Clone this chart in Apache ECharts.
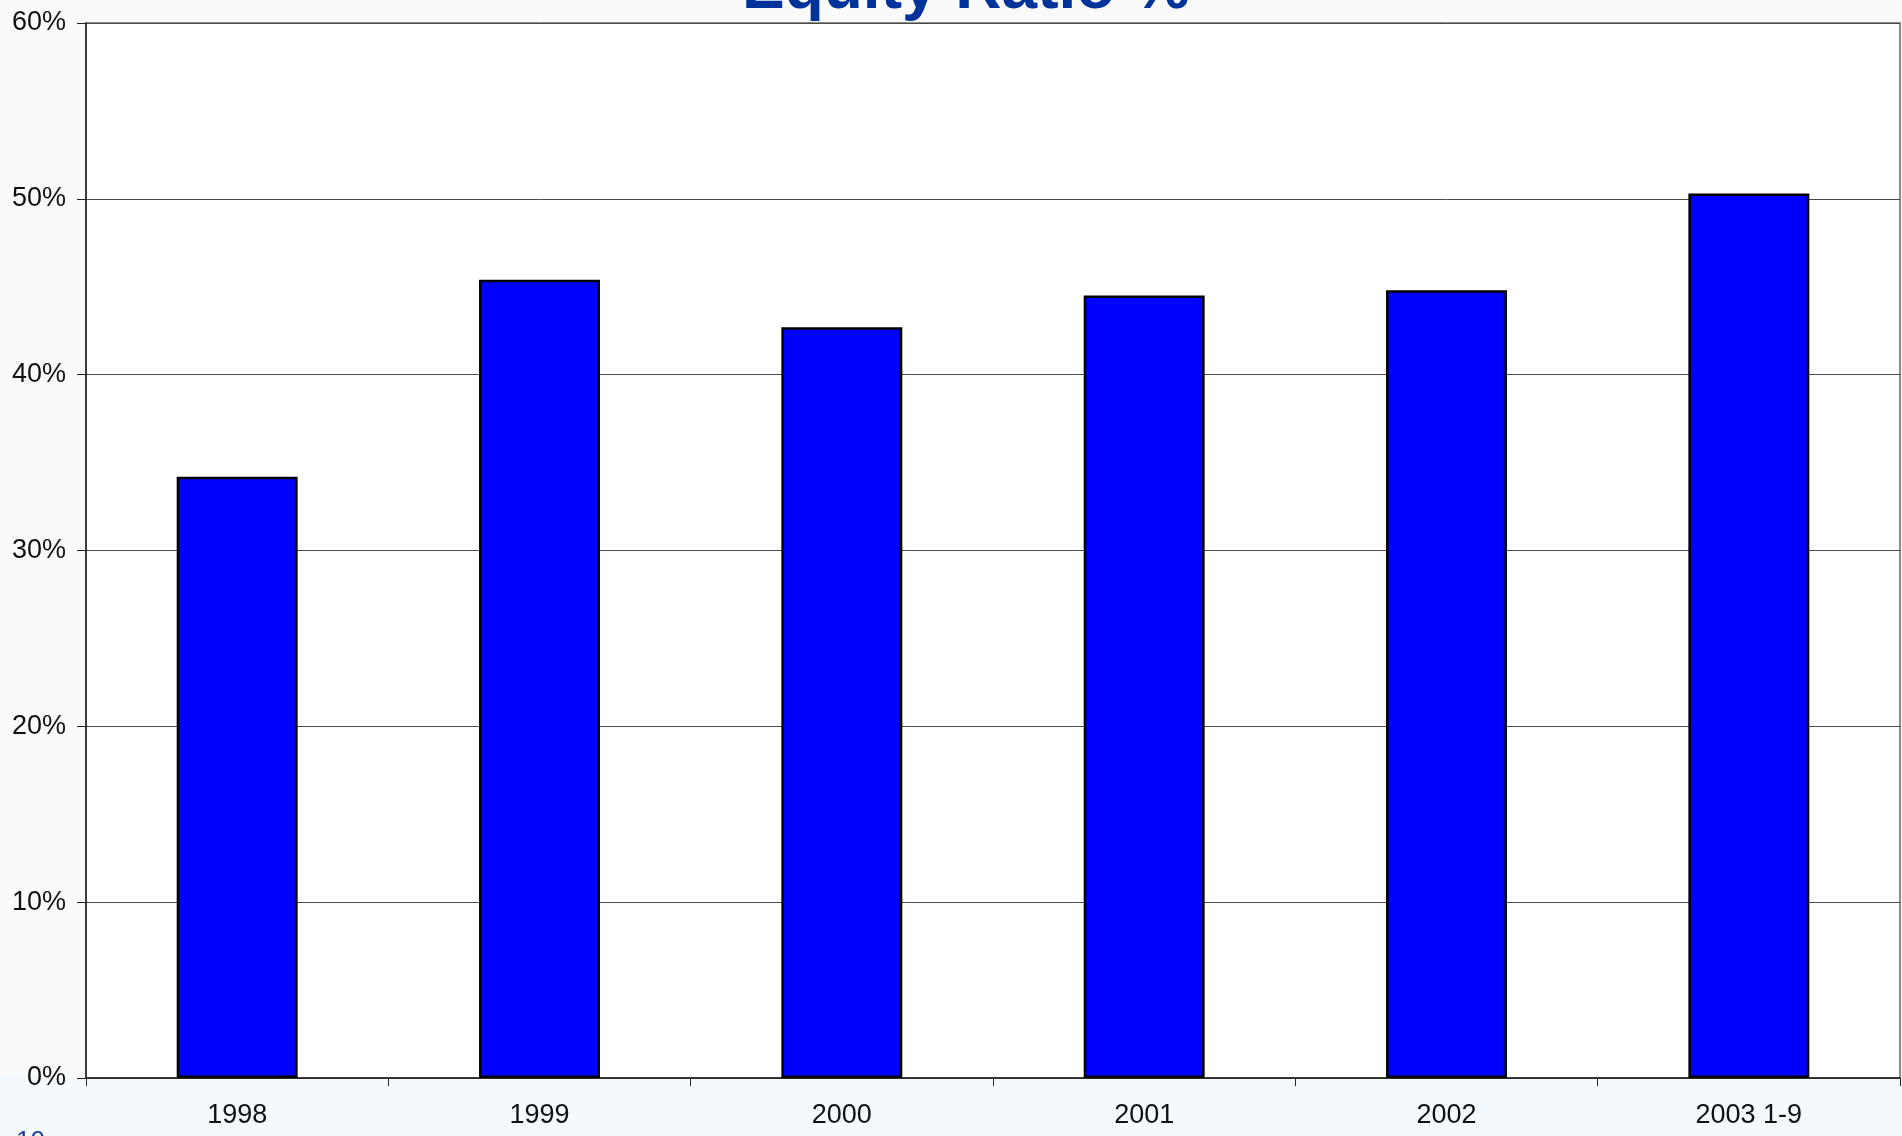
<!DOCTYPE html>
<html>
<head>
<meta charset="utf-8">
<title>Equity Ratio %</title>
<script src="https://cdn.jsdelivr.net/npm/echarts@6/dist/echarts.min.js"></script>
<style>
  html, body { margin: 0; padding: 0; background: #fafafa; }
  #chart { width: 1902px; height: 1136px; }
</style>
</head>
<body>
<div id="chart"></div>
<script>
// Equity ratio by year, percent
const categories = ['1998', '1999', '2000', '2001', '2002', '2003 1-9'];
const equityRatio = [34.2, 45.4, 42.7, 44.5, 44.8, 50.3];
const yTicks = { min: 0, max: 60, interval: 10 };

const chart = echarts.init(document.getElementById('chart'), null, { renderer: 'canvas' });

const option = {
  backgroundColor: '#fafafa',
  animation: false,
  title: {
    text: 'Equity Ratio %',
    left: 961,
    textAlign: 'center',
    top: -47,
    textStyle: {
      fontFamily: 'Liberation Sans, Arial, sans-serif',
      fontWeight: 'bold',
      fontSize: 64,
      color: '#003399'
    }
  },
  graphic: [
    {
      // light footer band of the slide
      type: 'rect',
      z: -10,
      shape: { x: 0, y: 1075, width: 1902, height: 61 },
      style: { fill: '#f4f9fd' }
    },
    {
      // slide number
      type: 'text',
      left: 16,
      top: 1129,
      z: 10,
      style: {
        text: '10',
        font: '26px "Liberation Sans", Arial, sans-serif',
        fill: '#1f3f9f'
      }
    }
  ],
  grid: {
    left: 86,
    right: 2,
    top: 23,
    bottom: 58,
    show: true,
    backgroundColor: '#ffffff',
    borderColor: '#8c8c8c',
    borderWidth: 2
  },
  xAxis: {
    type: 'category',
    data: categories,
    boundaryGap: true,
    axisLine: { show: true, lineStyle: { color: '#222', width: 1.5 } },
    axisTick: { show: true, length: 8, alignWithLabel: false, lineStyle: { color: '#222', width: 1 } },
    axisLabel: {
      margin: 24,
      fontFamily: 'Liberation Sans, Arial, sans-serif',
      fontSize: 27,
      color: '#111'
    },
    splitLine: { show: false }
  },
  yAxis: {
    type: 'value',
    min: yTicks.min,
    max: yTicks.max,
    interval: yTicks.interval,
    axisLine: { show: true, lineStyle: { color: '#222', width: 1.5 } },
    axisTick: { show: true, length: 9, lineStyle: { color: '#222', width: 1 } },
    axisLabel: {
      margin: 20,
      formatter: '{value}%',
      fontFamily: 'Liberation Sans, Arial, sans-serif',
      fontSize: 27,
      color: '#111'
    },
    splitLine: { show: true, lineStyle: { color: '#4a4a4a', width: 1 } }
  },
  series: [
    {
      type: 'bar',
      data: equityRatio,
      barWidth: '40%',
      itemStyle: {
        color: '#0000ff',
        borderColor: '#000000',
        borderWidth: 2.5
      }
    }
  ]
};

chart.setOption(option);
</script>
</body>
</html>
